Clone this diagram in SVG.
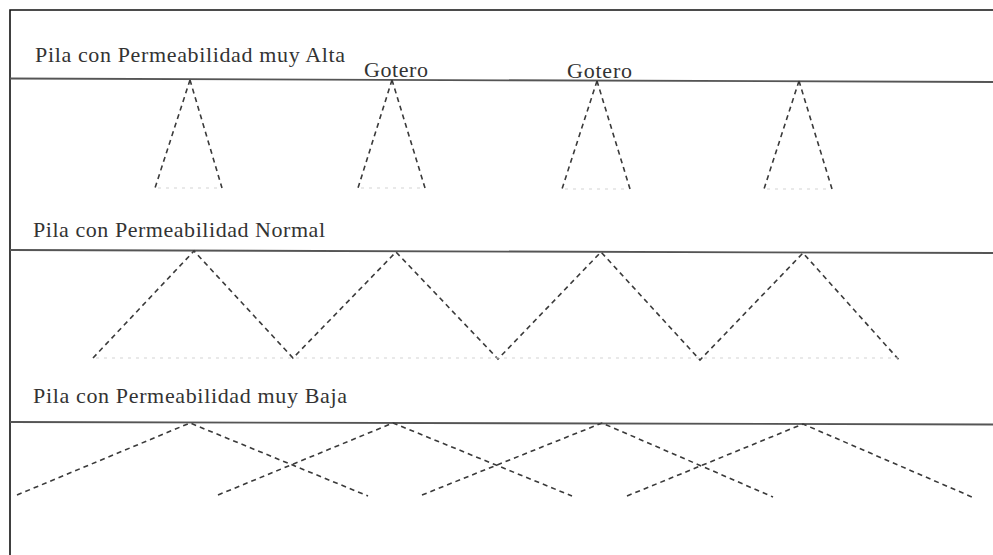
<svg xmlns="http://www.w3.org/2000/svg" width="993" height="555" viewBox="0 0 993 555">
  <style>
    .label { font-family: "Liberation Serif", "Times New Roman", serif; font-size: 22px; fill: #333; }
    .small { font-family: "Liberation Serif", "Times New Roman", serif; font-size: 22px; fill: #333; }
    .frame { stroke: #111; stroke-width: 1.6; fill: none; }
    .surface { stroke: #555; stroke-width: 1.8; fill: none; }
    .flow { stroke: #3a3a3a; stroke-width: 1.6; fill: none; stroke-dasharray: 5 4; }
    .base { stroke: #d4d4d4; stroke-width: 1.2; fill: none; stroke-dasharray: 3 5; }
  </style>
  <rect width="993" height="555" fill="#fff"/>

  <!-- outer frame: top and left edges -->
  <path class="frame" d="M10 555 V10 H993"/>

  <!-- pile 1: very high permeability -->
  <g id="pila-alta">
    <text class="label" x="35" y="62" textLength="310" lengthAdjust="spacing">Pila con Permeabilidad muy Alta</text>
    <line class="surface" x1="10" y1="78.5" x2="993" y2="82"/>
    <text id="gotero-1" class="small" x="364" y="77" textLength="64" lengthAdjust="spacing">Gotero</text>
    <text id="gotero-2" class="small" x="567" y="78" textLength="65" lengthAdjust="spacing">Gotero</text>
  </g>

  <!-- pile 2: normal permeability -->
  <g id="pila-normal">
    <text class="label" x="33" y="237" textLength="292" lengthAdjust="spacing">Pila con Permeabilidad Normal</text>
    <line class="surface" x1="10" y1="250" x2="993" y2="253"/>
  </g>

  <!-- pile 3: very low permeability -->
  <g id="pila-baja">
    <text class="label" x="33" y="403" textLength="314" lengthAdjust="spacing">Pila con Permeabilidad muy Baja</text>
    <line class="surface" x1="10" y1="422" x2="993" y2="424.5"/>
  </g>

  <!-- wetting fronts below each drip point -->
  <g id="connectors">
    <!-- high permeability: narrow cones -->
    <path class="flow" d="M190 80 L155 188 M190 80 L222 188"/>
    <path class="flow" d="M392 80 L358 188 M392 80 L425 188"/>
    <path class="flow" d="M597 81 L562 189 M597 81 L630 189"/>
    <path class="flow" d="M799 81 L764 189 M799 81 L832 189"/>
    <path class="base" d="M158 188 H220 M361 188 H423 M565 189 H628 M767 189 H830"/>

    <!-- normal permeability: touching cones -->
    <path class="flow" d="M93 358 L194 251 L293 358 L396 252 L498 359 L601 252 L700 360 L803 253 L900 361"/>
    <path class="base" d="M96 358 H898"/>

    <!-- very low permeability: wide overlapping cones -->
    <path class="flow" d="M17 495 L190 423 L368 496"/>
    <path class="flow" d="M218 495 L393 423 L572 496"/>
    <path class="flow" d="M422 495 L602 423 L773 497"/>
    <path class="flow" d="M627 496 L803 424 L972 497"/>
  </g>
</svg>
